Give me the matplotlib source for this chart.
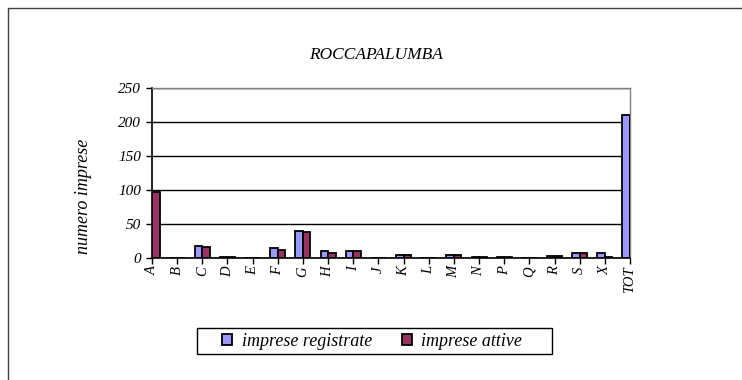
import numpy as np
import matplotlib
matplotlib.use('Agg')
import matplotlib.pyplot as plt
from matplotlib.lines import Line2D
from matplotlib.patches import Rectangle

plt.rcParams['font.family'] = ['Liberation Serif', 'DejaVu Serif']
plt.rcParams['font.style'] = 'italic'

# Data
settori = ['A', 'B', 'C', 'D', 'E', 'F', 'G', 'H', 'I', 'J',
           'K', 'L', 'M', 'N', 'P', 'Q', 'R', 'S', 'X', 'TOT']
registrate = [86, 0, 17, 1, 0, 15, 39, 11, 11, 0,
              5, 0, 4, 2, 2, 0, 3, 8, 7, 211]
attive = [97, 0, 16, 1, 0, 12, 38, 8, 11, 0,
          5, 0, 4, 2, 2, 0, 3, 8, 1, 208]

fig = plt.figure(figsize=(7.42, 3.80), dpi=100)
ax = fig.add_axes([152 / 742, 1 - 258 / 380, 478 / 742, 170 / 380])

x = np.arange(len(settori))
w = 0.3
ax.bar(x - w / 2, registrate, w, color='#9999FF', edgecolor='black', linewidth=1.3,
       label='imprese registrate', zorder=3)
ax.bar(x + w / 2, attive, w, color='#993366', edgecolor='black', linewidth=1.3,
       label='imprese attive', zorder=3)

ax.set_xlim(0, len(settori) - 1)
ax.set_ylim(0, 250)
ax.set_yticks(range(0, 251, 50))
ax.set_xticks(x)
ax.set_xticklabels(settori, rotation=90, fontsize=10.5)
ax.tick_params(axis='y', labelsize=11, length=4, width=1, direction='out', pad=4)
ax.tick_params(axis='x', length=4, width=1, direction='out', pad=2)
ax.yaxis.grid(True, color='black', linewidth=1)
ax.set_axisbelow(True)

for s in ['left', 'bottom']:
    ax.spines[s].set_color('black')
    ax.spines[s].set_linewidth(1.2)
for s in ['top', 'right']:
    ax.spines[s].set_color('#808080')
    ax.spines[s].set_linewidth(1)

fig.text(84 / 742, 1 - 196 / 380, 'numero imprese', rotation=90,
         ha='center', va='center', fontsize=13)
fig.text(376 / 742, 1 - 55 / 380, 'ROCCAPALUMBA', ha='center', va='center', fontsize=12.5)

# legend box drawn separately so it can be wider than the entries
fig.add_artist(Rectangle((197 / 742, 1 - 354 / 380), 355 / 742, 26 / 380,
                         transform=fig.transFigure, facecolor='white',
                         edgecolor='black', linewidth=1))
leg = fig.legend(loc='center', bbox_to_anchor=(372 / 742, 1 - 341 / 380), ncol=2,
                 frameon=False, fontsize=13, handlelength=0.55, handleheight=0.55,
                 handletextpad=0.55, columnspacing=1.65, borderpad=0.2,
                 borderaxespad=0)

# outer chart-area border (cut at right and bottom)
fig.add_artist(Line2D([8 / 742, 8 / 742, 1], [0, 1 - 8 / 380, 1 - 8 / 380],
                      transform=fig.transFigure, color='#404040', linewidth=1))

fig.savefig('out.png', dpi=100)
